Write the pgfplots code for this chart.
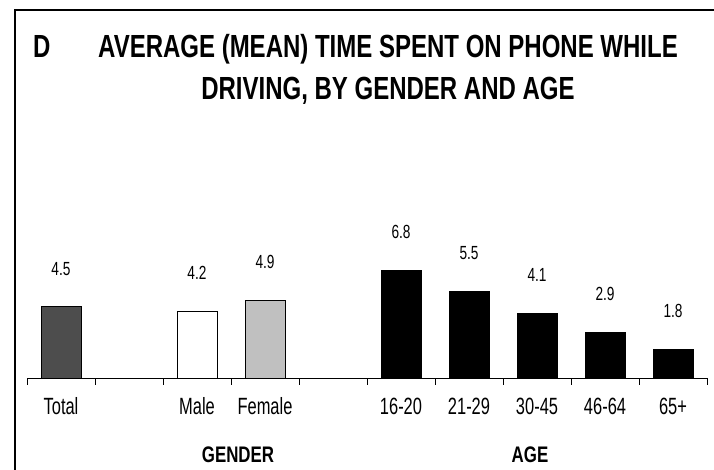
\documentclass[border=0pt]{standalone}
\usepackage{fontspec}
\setmainfont{Liberation Sans}[FakeStretch=0.75]
\newfontfamily\ticknarrow{Liberation Sans}[FakeStretch=0.70]
\newfontfamily\valnarrow{Liberation Sans}[FakeStretch=0.72]
\usepackage{pgfplots}
\pgfplotsset{compat=1.18}
\definecolor{darkbar}{HTML}{4D4D4D}
\definecolor{lightbar}{HTML}{C0C0C0}
\begin{document}
\begin{tikzpicture}[x=1bp,y=1bp]
\useasboundingbox (0,0) rectangle (714,470);
\draw[line width=2bp] (15,0) -- (15,460) -- (714,460);
\node[anchor=base west,inner sep=0pt,font=\fontsize{32bp}{42bp}\selectfont\bfseries] at (33,412) {D};
\node[anchor=base,inner sep=0pt,font=\fontsize{32bp}{42bp}\selectfont\bfseries] at (388,412) {AVERAGE (MEAN) TIME SPENT ON PHONE WHILE};
\node[anchor=base,inner sep=0pt,font=\fontsize{32bp}{42bp}\selectfont\bfseries] at (388,370) {DRIVING, BY GENDER AND AGE};
\node[anchor=base,inner sep=0pt,font=\fontsize{22.5bp}{26bp}\selectfont\bfseries] at (238,7) {GENDER};
\node[anchor=base,inner sep=0pt,font=\fontsize{22.5bp}{26bp}\selectfont\bfseries] at (530,7) {AGE};
\begin{axis}[
  at={(27bp,92bp)}, anchor=south west,
  scale only axis, width=680bp, height=158bp,
  xmin=-0.5, xmax=9.5, ymin=0, ymax=10,
  axis x line*=bottom, axis y line=none,
  ytick=\empty,
  xtick={0,2,3,5,6,7,8,9},
  xticklabels={Total,Male,Female,16-20,21-29,30-45,46-64,65+},
  minor xtick={-0.5,0.5,...,9.5},
  major tick length=0pt, minor tick length=7bp,
  tick align=outside,
  x axis line style={line width=0.8bp},
  minor tick style={line width=0.8bp,black},
  xticklabel style={anchor=base, yshift=-37bp, inner sep=0pt, font=\ticknarrow\fontsize{23.5bp}{26bp}\selectfont},
  clip=false,
  every axis plot/.append style={ybar, bar width=40bp, bar shift=0pt, draw=black, line width=0.8bp},
  nodes near coords={\pgfmathprintnumber[fixed,fixed zerofill,precision=1,assume math mode=true]{\pgfplotspointmeta}},
  nodes near coords style={anchor=base, yshift=31.7bp, inner sep=0pt, font=\valnarrow\fontsize{19bp}{22bp}\selectfont, text=black},
]
\addplot[fill=darkbar] coordinates {(0,4.5)};
\addplot[fill=white] coordinates {(2,4.2)};
\addplot[fill=lightbar] coordinates {(3,4.9)};
\addplot[fill=black] coordinates {(5,6.8) (6,5.5) (7,4.1) (8,2.9) (9,1.8)};
\end{axis}
\end{tikzpicture}
\end{document}
